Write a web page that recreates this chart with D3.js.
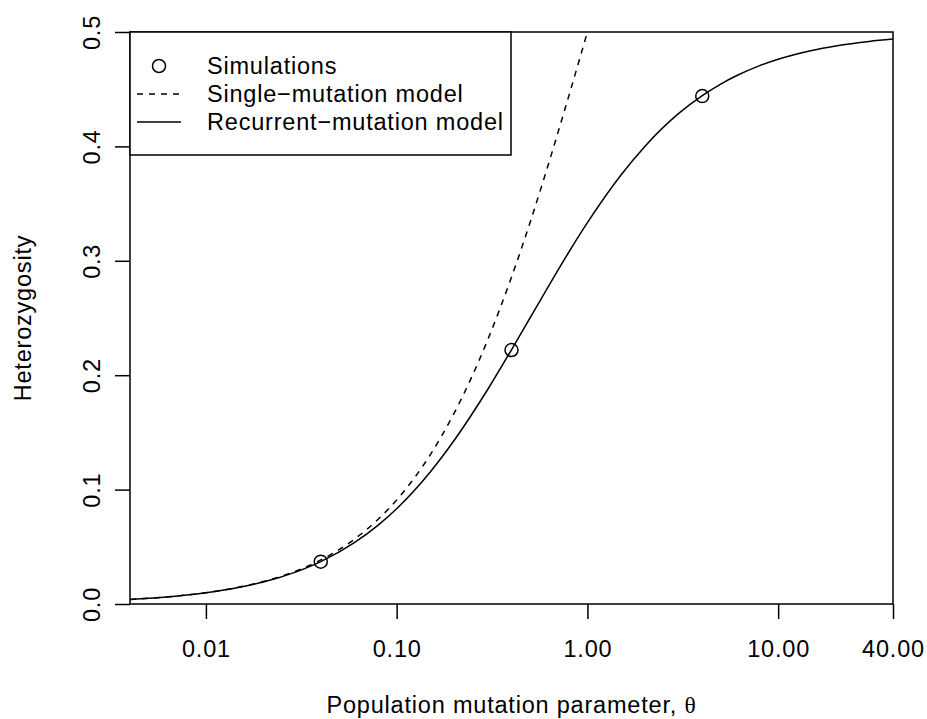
<!DOCTYPE html>
<html>
<head>
<meta charset="utf-8">
<script src="https://cdn.jsdelivr.net/npm/d3@7"></script>
<style>
  html, body { margin: 0; padding: 0; background: #fff; }
  svg { display: block; }
  text { font-family: "Liberation Sans", Arial, Helvetica, sans-serif; fill: #000; letter-spacing: 0.8px; }
</style>
</head>
<body>
<svg id="chart" width="927" height="719"></svg>
<script>
// ---- data ----
const thetaGrid = [0.004, 0.006, 0.01, 0.015, 0.02, 0.03, 0.04, 0.06, 0.08, 0.1, 0.15, 0.2, 0.3, 0.4, 0.5, 0.6, 0.8, 1,
                   1.5, 2, 3, 4, 5, 6, 8, 10, 15, 20, 30, 40];
const recurrentH = [0.0040, 0.0059, 0.0098, 0.0146, 0.0192, 0.0283, 0.0370, 0.0536, 0.0690, 0.0833, 0.1154, 0.1429, 0.1875, 0.2222, 0.2500, 0.2727, 0.3077, 0.3333,
                    0.3750, 0.4000, 0.4286, 0.4444, 0.4545, 0.4615, 0.4706, 0.4762, 0.4839, 0.4878, 0.4918, 0.4938];
const singleTheta = [0.004, 0.006, 0.01, 0.015, 0.02, 0.03, 0.04, 0.06, 0.08, 0.1, 0.15, 0.2, 0.3, 0.4, 0.5, 0.6, 0.8, 1];
const singleH = [0.0040, 0.0060, 0.0099, 0.0148, 0.0196, 0.0291, 0.0385, 0.0566, 0.0741, 0.0909, 0.1304, 0.1667, 0.2308, 0.2857, 0.3333, 0.3750, 0.4444, 0.5000];
const simTheta = [0.04, 0.4, 4];
const simH = [0.037, 0.222, 0.444];
const xTicks = [0.01, 0.1, 1, 10, 40];
const xTickLabels = ["0.01", "0.10", "1.00", "10.00", "40.00"];
const yTicks = [0, 0.1, 0.2, 0.3, 0.4, 0.5];
const yTickLabels = ["0.0", "0.1", "0.2", "0.3", "0.4", "0.5"];
const legendLabels = ["Simulations", "Single\u2212mutation model", "Recurrent\u2212mutation model"];

// ---- layout ----
const L = 130, R = 893, T = 32, B = 604;
const FS = 23.5;
const svg = d3.select("#chart");
svg.append("rect").attr("width", 927).attr("height", 719).attr("fill", "#fff");

const x = d3.scaleLog().domain([0.004, 40]).range([L, R]);
const y = d3.scaleLinear().domain([0, 0.5]).range([B, T]);

svg.append("clipPath").attr("id", "clip").append("rect")
  .attr("x", L).attr("y", T).attr("width", R - L).attr("height", B - T);

const line = d3.line().x(d => x(d[0])).y(d => y(d[1])).curve(d3.curveMonotoneX);

const g = svg.append("g").attr("clip-path", "url(#clip)");
g.append("path")
  .datum(singleTheta.map((t, i) => [t, singleH[i]]))
  .attr("d", line).attr("fill", "none").attr("stroke", "#000")
  .attr("stroke-width", 1.5).attr("stroke-dasharray", "6,6");
g.append("path")
  .datum(thetaGrid.map((t, i) => [t, recurrentH[i]]))
  .attr("d", line).attr("fill", "none").attr("stroke", "#000")
  .attr("stroke-width", 1.5);
g.selectAll("circle.sim").data(simTheta.map((t, i) => [t, simH[i]])).enter()
  .append("circle").attr("class", "sim")
  .attr("cx", d => x(d[0])).attr("cy", d => y(d[1])).attr("r", 6.5)
  .attr("fill", "none").attr("stroke", "#000").attr("stroke-width", 1.5);

// axes
const xAxis = d3.axisBottom(x).tickValues(xTicks).tickFormat((d, i) => xTickLabels[i])
  .tickSizeInner(15).tickSizeOuter(0);
const gx = svg.append("g").attr("transform", `translate(0,${B})`).call(xAxis);
gx.select(".domain").remove();
gx.selectAll("line").attr("stroke", "#000").attr("stroke-width", 1.5);
gx.selectAll("text").attr("font-size", FS).attr("font-family", null)
  .attr("y", 53).attr("dy", null);

const yAxis = d3.axisLeft(y).tickValues(yTicks).tickFormat((d, i) => yTickLabels[i])
  .tickSizeInner(15).tickSizeOuter(0);
const gy = svg.append("g").attr("transform", `translate(${L},0)`).call(yAxis);
gy.select(".domain").remove();
gy.selectAll("line").attr("stroke", "#000").attr("stroke-width", 1.5);
gy.selectAll("text")
  .attr("font-size", FS).attr("font-family", null)
  .attr("x", 0).attr("dy", null).attr("text-anchor", "middle")
  .attr("transform", "translate(-30,0) rotate(-90)")
  .attr("y", 0);

// box
svg.append("rect").attr("x", L).attr("y", T).attr("width", R - L).attr("height", B - T)
  .attr("fill", "none").attr("stroke", "#000").attr("stroke-width", 1.5);

// axis titles
const xt = svg.append("text").attr("x", (L + R) / 2).attr("y", 713).attr("text-anchor", "middle")
  .attr("font-size", FS);
xt.append("tspan").text("Population mutation parameter, ");
xt.append("tspan").attr("font-family", "'Liberation Serif', 'Times New Roman', serif").text("\u03B8");
svg.append("text").attr("transform", `translate(31,${(T + B) / 2}) rotate(-90)`)
  .attr("text-anchor", "middle").attr("font-size", FS).text("Heterozygosity");

// legend
const lg = svg.append("g");
lg.append("rect").attr("x", L).attr("y", T).attr("width", 511 - L).attr("height", 155 - T)
  .attr("fill", "#fff").attr("stroke", "#000").attr("stroke-width", 1.5);
const rowY = [66, 94, 122];
lg.append("circle").attr("cx", 159).attr("cy", rowY[0]).attr("r", 6.5)
  .attr("fill", "none").attr("stroke", "#000").attr("stroke-width", 1.5);
lg.append("line").attr("x1", 137).attr("x2", 181).attr("y1", rowY[1]).attr("y2", rowY[1])
  .attr("stroke", "#000").attr("stroke-width", 1.5).attr("stroke-dasharray", "6,6");
lg.append("line").attr("x1", 137).attr("x2", 181).attr("y1", rowY[2]).attr("y2", rowY[2])
  .attr("stroke", "#000").attr("stroke-width", 1.5);
lg.selectAll("text.leg").data(legendLabels).enter().append("text").attr("class", "leg")
  .attr("x", 207).attr("y", (d, i) => rowY[i]).attr("dy", "0.36em")
  .attr("font-size", FS).text(d => d);
</script>
</body>
</html>
